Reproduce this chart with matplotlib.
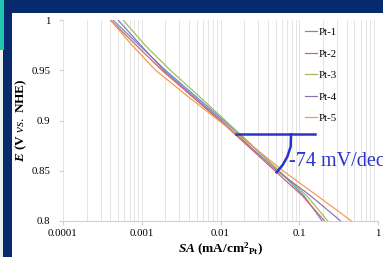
import numpy as np
import matplotlib
matplotlib.use("Agg")
import matplotlib.pyplot as plt
from matplotlib.patches import Rectangle

plt.rcParams['font.family'] = 'Liberation Serif'
plt.rcParams['mathtext.fontset'] = 'custom'
plt.rcParams['mathtext.rm'] = 'Liberation Serif'
plt.rcParams['mathtext.it'] = 'Liberation Serif:italic'
plt.rcParams['mathtext.bf'] = 'Liberation Serif:bold'
plt.rcParams['mathtext.bfit'] = 'Liberation Serif:bold:italic'

# potential (V vs NHE) and specific activity (mA/cm2 Pt)
potential = [1.0, 0.975, 0.95, 0.925, 0.9, 0.875, 0.85, 0.825, 0.8]
labels = ['Pt-1', 'Pt-2', 'Pt-3', 'Pt-4', 'Pt-5']
sa_pt1 = [0.00043, 0.00093, 0.002, 0.0047, 0.011, 0.025, 0.055, 0.115, 0.195]
sa_pt2 = [0.0004, 0.00085, 0.0018, 0.0042, 0.0098, 0.022, 0.049, 0.11, 0.21]
sa_pt3 = [0.00058, 0.0011, 0.0023, 0.0052, 0.0115, 0.0255, 0.055, 0.125, 0.23]
sa_pt4 = [0.0005, 0.00097, 0.0019, 0.0044, 0.0103, 0.023, 0.052, 0.14, 0.336]
sa_pt5 = [0.0004, 0.00075, 0.0015, 0.0037, 0.0095, 0.025, 0.062, 0.17, 0.46]
colors = ['#5B8FD0', '#D0605C', '#9BBB59', '#8C72B0', '#F79646']

# Tafel slope marker
tafel_x = [0.0157, 0.158]
tafel_E = 0.8863
arc_x = [0.0786, 0.0778, 0.0706, 0.0615, 0.0516]
arc_E = [0.8863, 0.874, 0.864, 0.8557, 0.8485]
tafel_text = '-74 mV/dec'

fig = plt.figure(figsize=(3.83, 2.57), dpi=100)
fig.patch.set_facecolor('#062A6B')

# white slide panel and left edge strip
fig.patches.append(Rectangle((12.3/383, 0), 1, 1 - 13/257, transform=fig.transFigure,
                             facecolor='white', edgecolor='none', zorder=-10))
fig.patches.append(Rectangle((0, 0), 3/383, 1, transform=fig.transFigure,
                             facecolor='#E8F2EE', edgecolor='none', zorder=-10))
fig.patches.append(Rectangle((0, 1 - 50/257), 4/383, 50/257, transform=fig.transFigure,
                             facecolor='#1FC7B0', edgecolor='none', zorder=-10))

ax = fig.add_axes([63/383, 1 - 221/257, 315/383, 201/257])
ax.set_facecolor('none')

for sa, lab, c in zip([sa_pt1, sa_pt2, sa_pt3, sa_pt4, sa_pt5], labels, colors):
    ax.plot(sa, potential, color=c, lw=0.85, label=lab)

ax.set_xscale('log')
ax.set_xlim(0.0001, 1)
ax.set_ylim(0.8, 1.0)
ax.set_xticks([0.0001, 0.001, 0.01, 0.1, 1])
ax.set_xticklabels(['0.0001', '0.001', '0.01', '0.1', '1'])
ax.set_yticks([0.8, 0.85, 0.9, 0.95, 1.0])
ax.set_yticklabels(['0.8', '0.85', '0.9', '0.95', '1'])
ax.tick_params(labelsize=7.8, length=3, color='#D0D0D0', pad=3)
ax.tick_params(axis='y', pad=6)
ax.tick_params(axis='x', which='minor', length=0)
ax.grid(True, which='both', axis='x', color='#E4E4E4', lw=0.7)
for s in ['top', 'right', 'left']:
    ax.spines[s].set_visible(False)
ax.spines['bottom'].set_color('#D0D0D0')

ax.set_ylabel(r'$\mathbfit{E}$ $\mathbf{(V}$ $\mathit{vs.}$ $\mathbf{NHE)}$', fontsize=9.5, labelpad=2)
ax.set_xlabel(r'$\mathbfit{SA}$ $\mathbf{(mA/cm^{2}{}_{Pt})}$', fontsize=9.5, labelpad=2)

ax.plot(tafel_x, [tafel_E, tafel_E], color='#2B33CC', lw=1.8, clip_on=False)
ax.plot(arc_x, arc_E, color='#2B33CC', lw=1.8, clip_on=False)
# the slide crops this label at its right edge, as in the original
ax.text(0.074, 0.8597, tafel_text, color='#2B33CC', fontsize=14.5, va='center', ha='left',
        clip_on=False)

ax.legend(loc='upper left', bbox_to_anchor=(0.745, 1.0), frameon=False, fontsize=7.8,
          handlelength=1.1, handletextpad=0.1, labelspacing=1.1, borderpad=0.2)

fig.savefig('out.png', dpi=100, facecolor=fig.get_facecolor())
